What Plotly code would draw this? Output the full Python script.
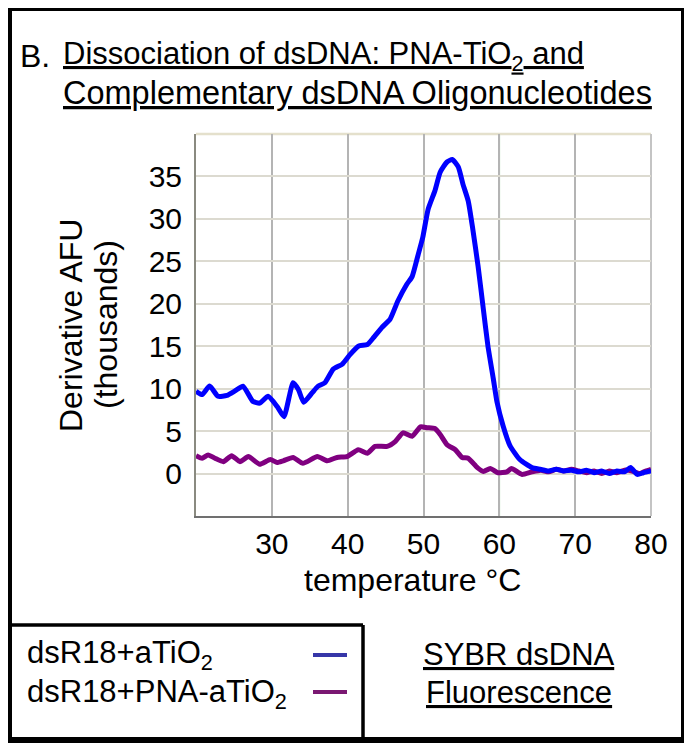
import plotly.graph_objects as go

# ---------------- data ----------------
temp_blue = [20.0, 20.8, 21.8, 22.9, 24.1, 25.1, 26.2, 27.5, 28.4, 29.5, 30.7, 31.6,
             32.8, 33.5, 34.2, 35.3, 36.1, 37.0, 38.1, 39.3, 40.3, 41.4, 42.6, 43.4,
             44.5, 45.6, 46.6, 47.8, 48.5, 49.3, 49.9, 50.6, 51.5, 52.2, 53.1, 53.8,
             54.6, 55.2, 55.9, 56.5, 57.2, 57.9, 58.5, 59.2, 59.7, 60.5, 61.4, 62.7,
             64.3, 65.4, 66.5, 67.5, 68.5, 69.5, 70.5, 71.5, 72.5, 73.5, 74.5, 75.5,
             76.5, 77.3, 78.2, 79.0, 80.0]
afu_blue = [9.7, 9.3, 10.3, 9.1, 9.2, 9.7, 10.3, 8.5, 8.3, 9.1, 7.9, 6.7,
            10.7, 9.9, 8.4, 9.5, 10.3, 10.7, 12.3, 12.9, 14.0, 15.0, 15.2, 16.0,
            17.2, 18.2, 20.3, 22.3, 23.2, 25.8, 27.8, 31.1, 33.3, 35.5, 36.7, 37.0,
            36.1, 34.1, 32.1, 28.8, 24.4, 19.3, 15.0, 11.2, 8.4, 5.6, 3.3, 1.65,
            0.7, 0.5, 0.3, 0.5, 0.3, 0.4, 0.2, 0.4, 0.1, 0.3, 0.0, 0.3,
            0.2, 0.7, -0.1, 0.1, 0.3]

temp_purple = [20.0, 20.8, 21.6, 22.5, 23.6, 24.7, 25.8, 26.9, 28.4, 29.8, 30.7, 31.5,
               32.8, 34.1, 36.0, 37.3, 38.6, 39.9, 41.4, 42.6, 43.6, 45.2, 46.3, 47.3,
               48.5, 49.6, 50.5, 51.5, 52.2, 53.1, 54.2, 55.1, 55.9, 57.1, 57.9, 58.8,
               59.8, 61.0, 61.6, 63.0, 64.3, 65.5, 66.5, 67.5, 68.5, 69.5, 70.5, 71.5,
               72.5, 73.5, 74.5, 75.5, 76.5, 77.5, 78.5, 79.3, 80.0]
afu_purple = [2.1, 1.8, 2.2, 1.8, 1.4, 2.1, 1.4, 2.0, 1.1, 1.65, 1.3, 1.5,
              1.9, 1.2, 2.0, 1.5, 1.9, 2.0, 2.8, 2.4, 3.2, 3.2, 3.8, 4.8,
              4.4, 5.5, 5.4, 5.3, 4.6, 3.4, 2.8, 1.9, 1.8, 0.7, 0.25, 0.6,
              0.1, 0.2, 0.6, -0.1, 0.2, 0.4, 0.2, 0.5, 0.3, 0.5, 0.3, 0.1,
              0.3, 0.0, 0.3, 0.1, 0.4, 0.3, 0.0, 0.3, 0.5]

x_tick_vals = [30, 40, 50, 60, 70, 80]
y_tick_vals = [0, 5, 10, 15, 20, 25, 30, 35]
series_names = ["dsR18+aTiO<sub>2</sub>", "dsR18+PNA-aTiO<sub>2</sub>"]
series_colors = ["#0000ff", "#800080"]
legend_colors = ["#3636a8", "#7a1872"]
title_prefix = "B."
title_lines = ["Dissociation of dsDNA: PNA-TiO<sub>2</sub> and",
               "Complementary dsDNA Oligonucleotides"]
y_title_lines = ["Derivative AFU", "(thousands)"]
x_title = "temperature °C"
note_lines = ["SYBR dsDNA", "Fluorescence"]

# ---------------- layout helpers ----------------
# The page body has an 8px default margin, so the figure is laid out in
# page coordinates minus that offset.
OFF = 8
W, H = 692 - OFF, 750 - OFF
L, R, T, B = 196 - OFF, 651 - OFF, 134 - OFF, 516 - OFF
FONT = "Liberation Sans, Arial, sans-serif"


def px(x):
    return (x - OFF - L) / (R - L)


def py(y):
    return (B - (y - OFF)) / (B - T)


fig = go.Figure()
fig.add_trace(go.Scatter(x=temp_purple, y=afu_purple, mode="lines", name=series_names[1],
                         line=dict(color=series_colors[1], width=5, shape="spline", smoothing=0.5),
                         showlegend=False))
fig.add_trace(go.Scatter(x=temp_blue, y=afu_blue, mode="lines", name=series_names[0],
                         line=dict(color=series_colors[0], width=5, shape="spline", smoothing=0.5),
                         showlegend=False))

shapes = []
# green reference line at 60 °C
shapes.append(dict(type="line", xref="x", yref="paper", x0=60, x1=60, y0=0, y1=1,
                   line=dict(color="#7cc47c", width=1.5), layer="between"))
# top (beige) and right (gray) plot borders
shapes.append(dict(type="line", xref="paper", yref="paper", x0=0, x1=1, y0=1, y1=1,
                   line=dict(color="#e4e0cc", width=2.5), layer="between"))
shapes.append(dict(type="line", xref="paper", yref="paper", x0=1, x1=1, y0=0, y1=1,
                   line=dict(color="#c4c4c4", width=2), layer="between"))
# outer frame
shapes.append(dict(type="rect", xref="paper", yref="paper",
                   x0=px(9), x1=px(684), y0=py(740), y1=py(8),
                   line=dict(color="black", width=6)))
# legend box (top and right edges)
shapes.append(dict(type="line", xref="paper", yref="paper", x0=px(9), x1=px(363),
                   y0=py(625), y1=py(625), line=dict(color="black", width=3.5)))
shapes.append(dict(type="line", xref="paper", yref="paper", x0=px(363), x1=px(363),
                   y0=py(625), y1=py(740), line=dict(color="black", width=3.5)))
# legend samples
for i, yy in enumerate([655, 692]):
    shapes.append(dict(type="line", xref="paper", yref="paper", x0=px(313), x1=px(347),
                       y0=py(yy), y1=py(yy), line=dict(color=legend_colors[i], width=4)))

ann = []


def add_text(text, x, y, size, xanchor="left", angle=0, underline=False):
    f = dict(family=FONT, size=size, color="black")
    if underline:
        f["lineposition"] = "under"
    ann.append(dict(text=text, x=px(x), y=py(y), xref="paper", yref="paper",
                    xanchor=xanchor, yanchor="middle", showarrow=False,
                    textangle=angle, font=f))


add_text(title_prefix, 18, 56, 32)
add_text(title_lines[0], 61, 56, 31)
ann[-1]["font"]["lineposition"] = "under"
add_text(title_lines[1], 61, 93, 32.5, underline=True)
add_text(y_title_lines[0], 71, 325, 32, xanchor="center", angle=-90)
add_text(y_title_lines[1], 106, 325, 32, xanchor="center", angle=-90)
add_text(x_title, 412, 580, 32, xanchor="center")
add_text(series_names[0], 25, 655, 31)
add_text(series_names[1], 25, 694, 31)
add_text(note_lines[0], 519, 654, 31, xanchor="center", underline=True)
add_text(note_lines[1], 519, 692, 31, xanchor="center", underline=True)

fig.update_layout(
    width=W, height=H,
    margin=dict(l=L, r=W - R, t=T, b=H - B, pad=0),
    paper_bgcolor="white", plot_bgcolor="white",
    font=dict(family=FONT, size=30, color="black"),
    shapes=shapes, annotations=ann,
    xaxis=dict(range=[20, 80], tickvals=x_tick_vals, showgrid=True,
               gridcolor="#b4b4b4", gridwidth=1.5, showline=True, linecolor="#707070",
               linewidth=2, ticks="", zeroline=False, ticklabelstandoff=0,
               tickfont=dict(size=30, family=FONT, color="black")),
    yaxis=dict(range=[-5, 40], tickvals=y_tick_vals, showgrid=True,
               gridcolor="#dcdad0", gridwidth=1.5, showline=True, linecolor="#8a8a80",
               linewidth=2, ticks="", zeroline=False, ticklabelstandoff=6,
               tickfont=dict(size=30, family=FONT, color="black")),
)

fig.write_html("out.html")
